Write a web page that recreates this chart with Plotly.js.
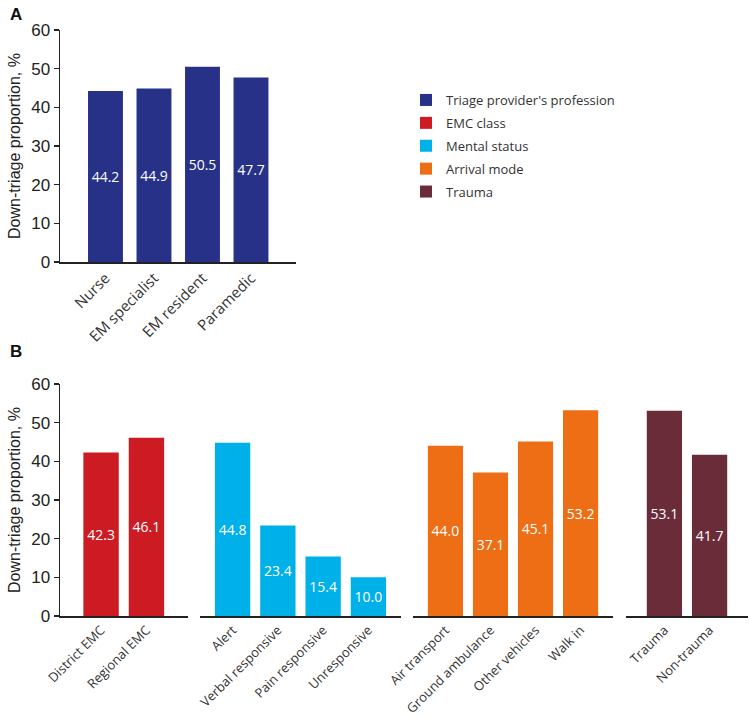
<!DOCTYPE html>
<html><head><meta charset="utf-8">
<script src="https://cdn.plot.ly/plotly-3.0.1.min.js"></script>
<style>html,body{margin:0;padding:0;background:#fff}#chart{width:750px;height:718px}</style>
</head><body><div id="chart"></div>
<script>
const profCats = ["Nurse", "EM specialist", "EM resident", "Paramedic"];
const profVals = [44.2, 44.9, 50.5, 47.7];
const emcCats = ["District EMC", "Regional EMC"];
const emcVals = [42.3, 46.1];
const mentalCats = ["Alert", "Verbal responsive", "Pain responsive", "Unresponsive"];
const mentalVals = [44.8, 23.4, 15.4, 10.0];
const arrivalCats = ["Air transport", "Ground ambulance", "Other vehicles", "Walk in"];
const arrivalVals = [44.0, 37.1, 45.1, 53.2];
const traumaCats = ["Trauma", "Non-trauma"];
const traumaVals = [53.1, 41.7];
const seriesNames = ["Triage provider's profession", "EMC class", "Mental status", "Arrival mode", "Trauma"];
const seriesColors = ["#283188", "#cc1b22", "#00b0e8", "#ed6e14", "#6b2c39"];

const W = 750, H = 718;
const px = v => v / W;
const py = v => 1 - v / H;
const FONT = "Liberation Sans, Arial, sans-serif";
const FONT2 = "Open Sans, sans-serif";
const axisColor = "#222";

function barTrace(cats, vals, i, xa, ya, width) {
  return {
    type: "bar", x: cats, y: vals, name: seriesNames[i], legendgroup: "g" + i,
    xaxis: xa, yaxis: ya, width: width,
    marker: {color: seriesColors[i], line: {width: 0}},
    text: vals.map(v => v.toFixed(1)), textposition: "inside", insidetextanchor: "middle",
    textfont: {color: "#ffffff", size: 14, family: FONT2}, constraintext: "none",
    hoverinfo: "x+y"
  };
}

const data = [
  barTrace(profCats, profVals, 0, "x", "y", 0.72),
  barTrace(emcCats, emcVals, 1, "x2", "y2", 0.78),
  barTrace(mentalCats, mentalVals, 2, "x3", "y2", 0.78),
  barTrace(arrivalCats, arrivalVals, 3, "x4", "y2", 0.78),
  barTrace(traumaCats, traumaVals, 4, "x5", "y2", 0.78)
];

function xax(d0, d1, r0, r1, anchor, fs) {
  return {
    domain: [px(d0), px(d1)], range: [r0, r1], anchor: anchor, type: "category",
    showline: true, linecolor: axisColor, linewidth: 1.5, ticks: "", showgrid: false,
    zeroline: false, tickangle: -45, tickfont: {size: fs, color: "#333", family: FONT2},
    fixedrange: true
  };
}
function yax(top, bottom, anchor) {
  return {
    domain: [py(bottom), py(top)], range: [0, 60], dtick: 10, anchor: anchor,
    showline: true, linecolor: axisColor, linewidth: 1.5, ticks: "outside", ticklen: 5,
    tickcolor: axisColor, tickwidth: 1.5, showgrid: false, zeroline: false,
    tickfont: {size: 17, color: "#222", family: FONT},
    title: {text: "Down-triage proportion, %", font: {size: 16, color: "#222", family: FONT}, standoff: 6},
    fixedrange: true
  };
}

const layout = {
  width: W, height: H, margin: {l: 0, r: 0, t: 0, b: 0},
  paper_bgcolor: "#fff", plot_bgcolor: "#fff", showlegend: true,
  font: {family: FONT, color: "#222"},
  xaxis: xax(60, 296, -0.938, 3.928, "y", 15),
  yaxis: yax(30, 262, "x"),
  xaxis2: xax(60, 188, -0.905, 1.916, "y2", 13),
  xaxis3: xax(200, 401, -0.72, 3.72, "y2", 13),
  xaxis4: xax(413, 613, -0.72, 3.72, "y2", 13),
  xaxis5: xax(626, 748, -0.85, 1.85, "y2", 13),
  yaxis2: yax(384, 616, "x2"),
  legend: {x: px(406), y: py(85), xanchor: "left", yanchor: "top", traceorder: "grouped",
    tracegroupgap: 3, font: {size: 13, color: "#333", family: FONT2}, itemwidth: 30, bgcolor: "rgba(0,0,0,0)"},
  annotations: [
    {text: "<b>A</b>", x: px(8), y: py(14), xref: "paper", yref: "paper", showarrow: false,
     xanchor: "left", yanchor: "middle", font: {size: 17, color: "#111", family: FONT}},
    {text: "<b>B</b>", x: px(8), y: py(352), xref: "paper", yref: "paper", showarrow: false,
     xanchor: "left", yanchor: "middle", font: {size: 17, color: "#111", family: FONT}}
  ]
};

Plotly.newPlot("chart", data, layout, {displayModeBar: false, staticPlot: true});
</script></body></html>
